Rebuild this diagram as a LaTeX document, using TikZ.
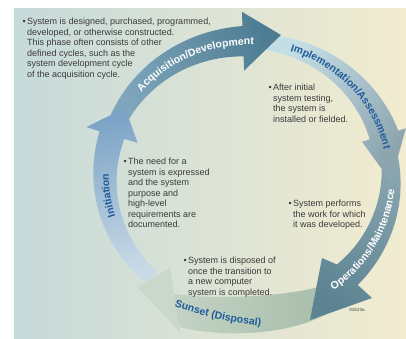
\documentclass[tikz,border=0pt]{standalone}
\usepackage{fontspec}
\setmainfont{Liberation Sans}
\usetikzlibrary{decorations.text}

\definecolor{bgleft}{HTML}{C6DADA}
\definecolor{bgright}{HTML}{F2ECD0}
\definecolor{notegray}{HTML}{3A3A3A}
\definecolor{labelblue}{HTML}{1F5C9C}
\definecolor{initlight}{HTML}{CADBE6}
\definecolor{initdark}{HTML}{7CA3C6}
\definecolor{acqlight}{HTML}{7FA6BC}
\definecolor{acqdark}{HTML}{4D7C92}
\definecolor{impllight}{HTML}{C4DEE6}
\definecolor{impldark}{HTML}{8CA4AE}
\definecolor{opslight}{HTML}{88A5B0}
\definecolor{opsdark}{HTML}{5C8391}
\definecolor{sunlight}{HTML}{C9D8CB}
\definecolor{sundark}{HTML}{A6BBA8}

\begin{document}
\begin{tikzpicture}[
    x=1pt, y=1pt,
    note/.style = {font=\fontsize{9}{10.5}\selectfont, text=notegray, align=left, anchor=north west, inner sep=0pt},
    initarrow/.style = {top color=initdark, bottom color=initlight, shading angle=10},
    acqarrow/.style  = {top color=acqdark, bottom color=acqlight, shading angle=-70},
    implarrow/.style = {top color=impldark, bottom color=impllight, shading angle=-135},
    opsarrow/.style  = {top color=opsdark, bottom color=opslight, shading angle=150},
    sunarrow/.style  = {top color=sunlight, bottom color=sundark, shading angle=90}
    ]
    \useasboundingbox (-248,-161) rectangle (158,177);
    \shade[left color=bgleft, right color=bgright] (-234,-161) rectangle (158,169);

    % Sunset (Disposal)
    \shade[sunarrow] (82,-107) .. controls (40,-120) and (-30,-123) .. (-74,-117)
        -- (-78,-91) -- (-110,-110) -- (-68,-155) -- (-69,-150)
        .. controls (-20,-162) and (55,-158) .. (92,-128) -- cycle;

    % Operations/Maintenance
    \shade[opsarrow] plot[domain=12:-46, samples=30] ({(151+7*(12-(\x))/58)*cos(\x)}, {0.95*(151+7*(12-(\x))/58)*sin(\x)})
        -- (124,-121) -- (62,-143) -- (74,-81)
        -- plot[domain=-46:12, samples=30] ({(135-7*(12-(\x))/58)*cos(\x)}, {0.95*(135-7*(12-(\x))/58)*sin(\x)}) -- cycle;

    % Implementation/Assessment
    \shade[implarrow] plot[domain=84:18, samples=30] ({(151+7*(84-(\x))/66)*cos(\x)}, {0.95*(151+7*(84-(\x))/66)*sin(\x)})
        -- (18:166 and 157.7) -- (-2:143 and 135.9) -- (18:120 and 114)
        -- plot[domain=18:84, samples=30] ({(135-7*(84-(\x))/66)*cos(\x)}, {0.95*(135-7*(84-(\x))/66)*sin(\x)}) -- cycle;

    % Acquisition/Development
    \shade[acqarrow] plot[domain=155:92, samples=30] ({(152+7*(155-(\x))/63)*cos(\x)}, {0.95*(152+7*(155-(\x))/63)*sin(\x)})
        -- (92:174 and 165.3) -- (33,142) -- (92:112 and 106.4)
        -- plot[domain=92:155, samples=30] ({(134-7*(155-(\x))/63)*cos(\x)}, {0.95*(134-7*(155-(\x))/63)*sin(\x)}) -- cycle;

    % Initiation
    \shade[initarrow] plot[domain=228:162, samples=30] ({(151+5*(228-(\x))/66)*cos(\x)}, {0.95*(151+5*(228-(\x))/66)*sin(\x)})
        -- (162:170 and 161.5) -- (-123,69) -- (162:116 and 110.2)
        -- plot[domain=162:228, samples=30] ({(135-5*(228-(\x))/66)*cos(\x)}, {0.95*(135-5*(228-(\x))/66)*sin(\x)}) -- cycle;

    % Sunset head again, over the Initiation tail
    \fill[sunlight] (-74,-117) -- (-78,-91) -- (-110,-110) -- (-68,-155) -- (-69,-150) -- cycle;

    % Phase labels
    \path[decorate, decoration={text along path, text align=center, text color=white,
        text={|\fontsize{10.5}{12}\selectfont\bfseries|Acquisition/Development}}]
        (150:139 and 132.1) arc[start angle=150, end angle=78, x radius=139, y radius=132.1];
    \path[decorate, decoration={text along path, text align=center, text color=labelblue,
        text={|\fontsize{10.5}{12}\selectfont\bfseries|Implementation/Assessment}}]
        (80:139 and 132.1) arc[start angle=80, end angle=4, x radius=139, y radius=132.1];
    \path[decorate, decoration={text along path, text align=center, text color=white,
        text={|\fontsize{10.5}{12}\selectfont\bfseries|Operations/Maintenance}}]
        (-65:147 and 139.7) arc[start angle=-65, end angle=6, x radius=147, y radius=139.7];
    \path[decorate, decoration={text along path, text align=center, text color=labelblue,
        text={|\fontsize{10.5}{12}\selectfont\bfseries|Sunset (Disposal)}}]
        (-85,-125) .. controls (-50,-139) and (-15,-147) .. (25,-150);
    \path[decorate, decoration={text along path, text align=center, text color=labelblue,
        text={|\fontsize{10.5}{12}\selectfont\bfseries|Initiation}}]
        (205:139 and 132.1) arc[start angle=205, end angle=171, x radius=139, y radius=132.1];

    % Phase notes
    \node[note] (note acq) at (-221,159) {\llap{•\,}System is designed, purchased, programmed,\\developed, or otherwise constructed.\\This phase often consists of other\\defined cycles, such as the\\system development cycle\\of the acquisition cycle.};
    \node[note] (note init) at (-120,19) {\llap{•\,}The need for a\\system is expressed\\and the system\\purpose and\\high-level\\requirements are\\documented.};
    \node[note] (note impl) at (25,93) {\llap{•\,}After initial\\system testing,\\the system is\\installed or fielded.};
    \node[note] (note ops) at (45,-23) {\llap{•\,}System performs\\the work for which\\it was developed.};
    \node[note] (note sunset) at (-60,-80) {\llap{•\,}System is disposed of\\once the transition to\\a new computer\\system is completed.};

    % Figure number
    \node[font=\fontsize{4.5}{5}\selectfont, text=notegray] (fig id) at (109,-133) {01523a};
\end{tikzpicture}
\end{document}
